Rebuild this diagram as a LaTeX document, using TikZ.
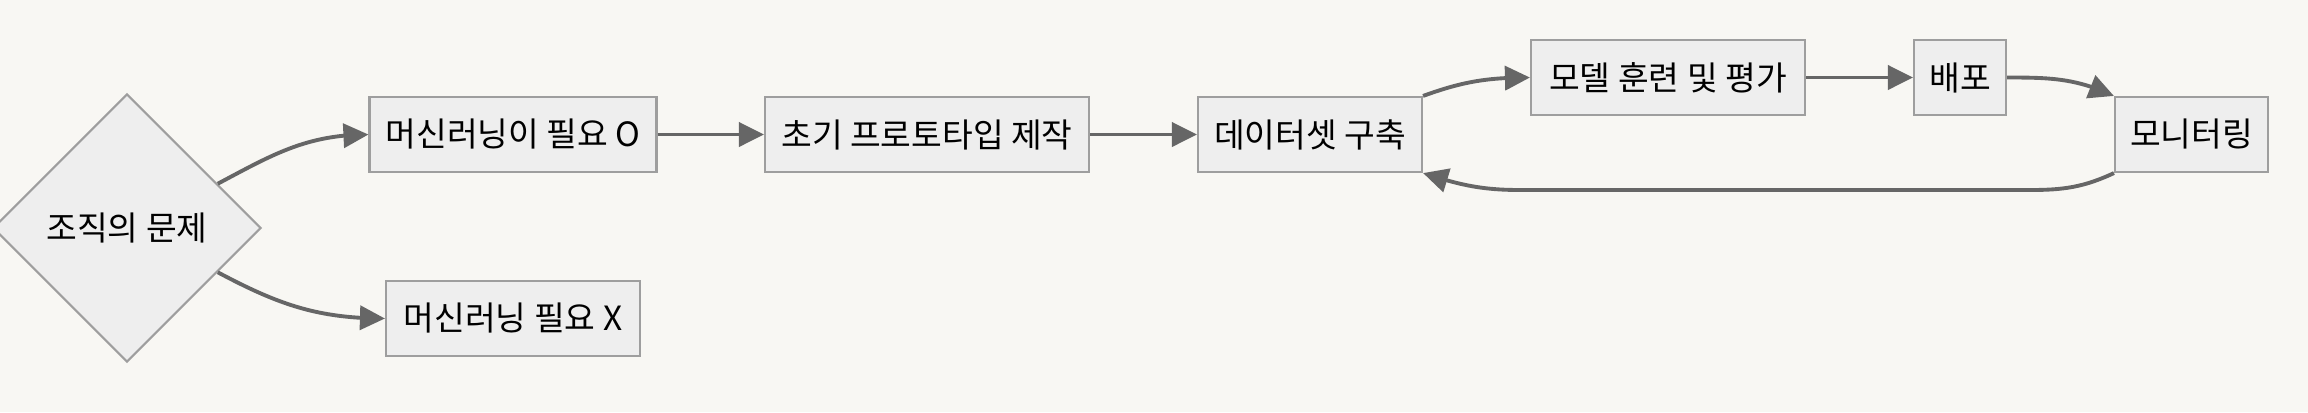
\documentclass[tikz,border=0pt]{standalone}
\usepackage{fontspec}
\newfontfamily\krfont{Noto Sans CJK KR}
\usetikzlibrary{shapes.geometric,arrows.meta,bending}
\definecolor{bgcol}{HTML}{F8F7F3}
\definecolor{boxfill}{HTML}{EEEEEE}
\definecolor{boxline}{HTML}{9E9E9E}
\definecolor{edgecol}{HTML}{666666}
\tikzset{
  stepbox/.style={rectangle, draw=boxline, fill=boxfill, line width=0.6pt, minimum height=0.75cm, inner sep=0pt, font=\krfont\fontsize{9.5}{11}\selectfont, align=center},
  decision/.style={diamond, aspect=1, draw=boxline, fill=boxfill, line width=0.6pt, minimum width=2.68cm, minimum height=2.68cm, inner sep=0pt, font=\krfont\fontsize{9.5}{11}\selectfont, align=center},
  flow/.style={draw=edgecol, line width=1.1pt, -{Triangle[length=0.25cm,width=0.24cm]}}
}

\begin{document}
\begin{tikzpicture}
  \path[fill=bgcol, use as bounding box] (0,0) rectangle (23.08,-4.12);

  \node[decision] (problem) at (1.27,-2.28) {조직의 문제};
  \node[stepbox, minimum width=2.87cm] (needyes) at (5.13,-1.345) {머신러닝이 필요 O};
  \node[stepbox, minimum width=2.54cm] (needno) at (5.13,-3.185) {머신러닝 필요 X};
  \node[stepbox, minimum width=3.24cm] (proto) at (9.27,-1.345) {초기 프로토타입 제작};
  \node[stepbox, minimum width=2.24cm] (dataset) at (13.10,-1.345) {데이터셋 구축};
  \node[stepbox, minimum width=2.74cm] (train) at (16.68,-0.775) {모델 훈련 및 평가};
  \node[stepbox, minimum width=0.92cm] (deploy) at (19.60,-0.775) {배포};
  \node[stepbox, minimum width=1.53cm] (monitor) at (21.915,-1.345) {모니터링};

  \coordinate (loopR) at (20.30,-1.90);
  \coordinate (loopL) at (15.20,-1.90);

  \draw[flow] (problem.26) to[out=28, in=180] (needyes.west);
  \draw[flow] (problem.-26) to[out=-28, in=180] (needno.west);
  \draw[flow] (needyes) -- (proto);
  \draw[flow] (proto) -- (dataset);
  \draw[flow] (dataset.north east) to[out=20, in=180] (train.west);
  \draw[flow] (train) -- (deploy);
  \draw[flow] (deploy.east) to[out=0, in=155] (monitor.north west);
  \draw[flow] (monitor.south west) to[out=-155, in=0] (loopR) -- (loopL) to[out=180, in=-18] (dataset.south east);
\end{tikzpicture}
\end{document}
